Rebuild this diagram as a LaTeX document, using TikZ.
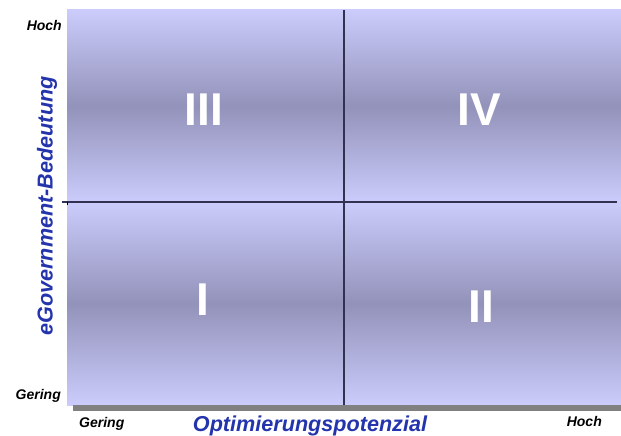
\documentclass[tikz,border=0pt]{standalone}
\usepackage{fontspec}
\setmainfont{Liberation Sans}
\begin{document}
\begin{tikzpicture}[x=1pt,y=-1pt,
  halfshade/.style={top color=qlight, bottom color=qlight, middle color=qdark, draw=none},
  ticklabel/.style={font=\fontsize{14}{14}\selectfont\bfseries\itshape, text=black, inner sep=0pt},
  axistitle/.style={font=\fontsize{21.6}{22}\selectfont\bfseries\itshape, text=axisblue, inner sep=0pt},
  numeral/.style={font=\fontsize{46}{46}\selectfont\bfseries, text=white, inner sep=0pt},
  divider/.style={draw=divcol, line width=1.6pt}]
\definecolor{qlight}{RGB}{204,204,252}
\definecolor{qdark}{RGB}{146,146,186}
\definecolor{axisblue}{RGB}{36,52,172}
\definecolor{divcol}{RGB}{50,50,80}
\definecolor{bargray}{RGB}{128,128,128}
\useasboundingbox (0,0) rectangle (621,436);
% shaded halves
\shade[halfshade] (67,10) rectangle (621,202);
\shade[halfshade] (67,202) rectangle (621,405);
% bottom bar
\fill[bargray] (73,405) rectangle (621,411);
% dividers
\coordinate (vtop) at (344,10);
\coordinate (vbot) at (344,405);
\coordinate (hleft) at (62,202);
\coordinate (hright) at (617,202);
\coordinate (tickt) at (67,202);
\coordinate (tickb) at (67,205);
\draw[divider] (vtop) -- (vbot);
\draw[divider] (hleft) -- (hright);
\draw[black, line width=0.6pt] (tickt) -- (tickb);
% numerals
\node[numeral] (q3) at (204,109.5) {III};
\node[numeral] (q4) at (479,109.5) {IV};
\node[numeral] (q1) at (203,300) {I};
\node[numeral] (q2) at (481,307) {II};
% tick labels
\node[ticklabel, anchor=base east] (yhigh) at (62,31) {Hoch};
\node[ticklabel, anchor=base east] (ylow) at (61,399) {Gering};
\node[ticklabel, anchor=base west] (xlow) at (79,427) {Gering};
\node[ticklabel, anchor=base east] (xhigh) at (602,426) {Hoch};
% axis titles
\node[axistitle, rotate=90, anchor=base] (ytitle) at (52.5,206) {eGovernment-Bedeutung};
\node[axistitle, anchor=base] (xtitle) at (310,431.3) {Optimierungspotenzial};
\end{tikzpicture}
\end{document}
